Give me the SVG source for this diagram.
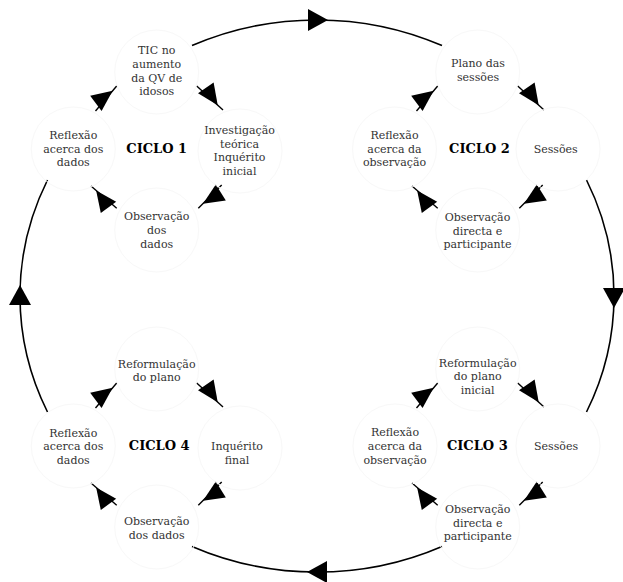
<svg xmlns="http://www.w3.org/2000/svg" xmlns:xlink="http://www.w3.org/1999/xlink" width="623" height="582" viewBox="0 0 623 582">
<style>
  .bg{fill:#ffffff}
  .nc{fill:none;stroke:#f8f8f8;stroke-width:1}
  .t{font-family:"DejaVu Serif","Liberation Serif",serif;font-size:11px;fill:#333333;text-anchor:middle}
  .c{font-family:"DejaVu Serif","Liberation Serif",serif;font-size:13px;font-weight:bold;fill:#000000;text-anchor:middle}
  .ln{fill:none;stroke:#000000;stroke-width:1.4}
  .big{fill:none;stroke:#000000;stroke-width:1.6}
  .ah{fill:#000000;stroke:none}
</style>
<defs>
  <polygon id="ah" class="ah" points="0,0 -21,-9.5 -21,9.5"/>
  <polygon id="bh" class="ah" points="0,0 -20,-11 -20,11"/>
  <g id="cyc">
    <line class="ln" x1="95.5" y1="111" x2="116.7" y2="86"/>
    <use xlink:href="#ah" href="#ah" transform="translate(112.66,90.8) rotate(-36.9)"/>
    <line class="ln" x1="196.7" y1="86" x2="223" y2="110"/>
    <use xlink:href="#ah" href="#ah" transform="translate(217.74,105.2) rotate(55.4)"/>
    <line class="ln" x1="221.7" y1="185" x2="198.3" y2="208.3"/>
    <use xlink:href="#ah" href="#ah" transform="translate(202.98,203.64) rotate(148.1)"/>
    <line class="ln" x1="116.7" y1="208.3" x2="91" y2="186"/>
    <use xlink:href="#ah" href="#ah" transform="translate(96.14,190.46) rotate(-126)"/>
  </g>
</defs>
<rect class="bg" x="0" y="0" width="623" height="582"/>

<g id="connectors">
  <g id="outer-cycle">
    <path class="big" d="M192,45.6 A297,276 0 0,1 442,45.6"/>
    <path class="big" d="M586.5,180 A297,276 0 0,1 586.5,412"/>
    <path class="big" d="M442,546.4 A297,276 0 0,1 192,546.4"/>
    <path class="big" d="M47.5,412 A297,276 0 0,1 47.5,180"/>
    <use xlink:href="#bh" href="#bh" transform="translate(328,20)"/>
    <use xlink:href="#bh" href="#bh" transform="translate(614,308) rotate(90)"/>
    <use xlink:href="#bh" href="#bh" transform="translate(307,572) rotate(180)"/>
    <use xlink:href="#bh" href="#bh" transform="translate(20,285) rotate(-90)"/>
  </g>
  <g id="cycle1-edges"><use xlink:href="#cyc" href="#cyc"/></g>
  <g id="cycle2-edges"><use xlink:href="#cyc" href="#cyc" transform="translate(321,0)"/></g>
  <g id="cycle3-edges"><use xlink:href="#cyc" href="#cyc" transform="translate(321,297)"/></g>
  <g id="cycle4-edges"><use xlink:href="#cyc" href="#cyc" transform="translate(0,297)"/></g>
</g>

<!-- CICLO 1 -->
<g id="c1-tic">
  <circle class="nc" cx="156.7" cy="72" r="42"/>
  <text class="t" x="156.7" y="54.3">TIC no</text>
  <text class="t" x="156.7" y="68">aumento</text>
  <text class="t" x="156.7" y="81.7">da QV de</text>
  <text class="t" x="156.7" y="95.4">idosos</text>
</g>
<g id="c1-investigacao">
  <circle class="nc" cx="240" cy="151" r="42"/>
  <text class="t" x="239.5" y="134">Investigação</text>
  <text class="t" x="239.5" y="147.7">teórica</text>
  <text class="t" x="239.5" y="161.4">Inquérito</text>
  <text class="t" x="239.5" y="175.1">inicial</text>
</g>
<g id="c1-observacao">
  <circle class="nc" cx="156.7" cy="230" r="42"/>
  <text class="t" x="156.7" y="220.3">Observação</text>
  <text class="t" x="156.7" y="234">dos</text>
  <text class="t" x="156.7" y="247.7">dados</text>
</g>
<g id="c1-reflexao">
  <circle class="nc" cx="73.3" cy="149" r="42"/>
  <text class="t" x="73.3" y="138.8">Reflexão</text>
  <text class="t" x="73.3" y="152.5">acerca dos</text>
  <text class="t" x="73.3" y="166.2">dados</text>
</g>
<g id="c1-label">
  <text class="c" x="156.7" y="152.5">CICLO 1</text>
</g>

<!-- CICLO 2 -->
<g id="c2-plano">
  <circle class="nc" cx="477.7" cy="72" r="42"/>
  <text class="t" x="478" y="67.3">Plano das</text>
  <text class="t" x="478" y="81">sessões</text>
</g>
<g id="c2-sessoes">
  <circle class="nc" cx="558" cy="149" r="42"/>
  <text class="t" x="555.7" y="152.6">Sessões</text>
</g>
<g id="c2-observacao">
  <circle class="nc" cx="477.7" cy="230" r="42"/>
  <text class="t" x="477.5" y="220.8">Observação</text>
  <text class="t" x="477.5" y="234.5">directa e</text>
  <text class="t" x="477.5" y="248.2">participante</text>
</g>
<g id="c2-reflexao">
  <circle class="nc" cx="394.5" cy="149" r="42"/>
  <text class="t" x="394.5" y="139">Reflexão</text>
  <text class="t" x="394.5" y="152.7">acerca da</text>
  <text class="t" x="394.5" y="166.4">observação</text>
</g>
<g id="c2-label">
  <text class="c" x="479.5" y="152.5">CICLO 2</text>
</g>

<!-- CICLO 3 -->
<g id="c3-reformulacao">
  <circle class="nc" cx="477.7" cy="369" r="42"/>
  <text class="t" x="477.7" y="366.5">Reformulação</text>
  <text class="t" x="477.7" y="380.2">do plano</text>
  <text class="t" x="477.7" y="393.9">inicial</text>
</g>
<g id="c3-sessoes">
  <circle class="nc" cx="558" cy="446" r="42"/>
  <text class="t" x="556" y="450.3">Sessões</text>
</g>
<g id="c3-observacao">
  <circle class="nc" cx="477.7" cy="527" r="42"/>
  <text class="t" x="477.7" y="513">Observação</text>
  <text class="t" x="477.7" y="526.7">directa e</text>
  <text class="t" x="477.7" y="540.4">participante</text>
</g>
<g id="c3-reflexao">
  <circle class="nc" cx="395" cy="446" r="42"/>
  <text class="t" x="395" y="436.3">Reflexão</text>
  <text class="t" x="395" y="450">acerca da</text>
  <text class="t" x="395" y="463.7">observação</text>
</g>
<g id="c3-label">
  <text class="c" x="477.3" y="450.3">CICLO 3</text>
</g>

<!-- CICLO 4 -->
<g id="c4-reformulacao">
  <circle class="nc" cx="156.7" cy="369" r="42"/>
  <text class="t" x="156.7" y="367.7">Reformulação</text>
  <text class="t" x="156.7" y="381.4">do plano</text>
</g>
<g id="c4-inquerito">
  <circle class="nc" cx="240" cy="448" r="42"/>
  <text class="t" x="237" y="450">Inquérito</text>
  <text class="t" x="237" y="463.7">final</text>
</g>
<g id="c4-observacao">
  <circle class="nc" cx="156.7" cy="527" r="42"/>
  <text class="t" x="156.7" y="525">Observação</text>
  <text class="t" x="156.7" y="538.7">dos dados</text>
</g>
<g id="c4-reflexao">
  <circle class="nc" cx="73.3" cy="446" r="42"/>
  <text class="t" x="73.3" y="436.5">Reflexão</text>
  <text class="t" x="73.3" y="450.2">acerca dos</text>
  <text class="t" x="73.3" y="463.9">dados</text>
</g>
<g id="c4-label">
  <text class="c" x="159.2" y="450.3">CICLO 4</text>
</g>
</svg>
